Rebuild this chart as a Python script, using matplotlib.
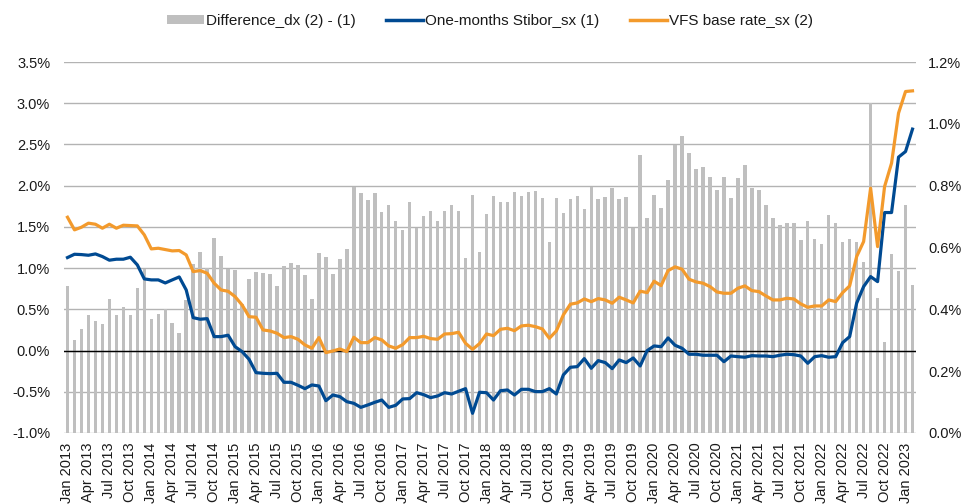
import matplotlib
matplotlib.use("Agg")
import matplotlib.pyplot as plt
from matplotlib.patches import Patch
from matplotlib.lines import Line2D
from matplotlib.ticker import FuncFormatter, FixedLocator
import numpy as np

plt.rcParams['font.family'] = ['Liberation Sans', 'DejaVu Sans']

# ---- data -------------------------------------------------------------
months = ["Jan", "Feb", "Mar", "Apr", "May", "Jun", "Jul", "Aug", "Sep", "Oct", "Nov", "Dec"]
categories = [f"{months[m]} {y}" for y in range(2013, 2024) for m in range(12)][:122]

difference = [
    0.475, 0.302, 0.336, 0.382, 0.361, 0.351, 0.432, 0.381, 0.408, 0.381, 0.468, 0.531,
    0.370, 0.386, 0.402, 0.356, 0.323, 0.431, 0.547, 0.585, 0.533, 0.632, 0.571, 0.531,
    0.527, 0.418, 0.499, 0.521, 0.518, 0.514,
    0.475, 0.539, 0.549, 0.542, 0.512, 0.433, 0.581, 0.569, 0.515, 0.564, 0.595, 0.797,
    0.775, 0.754, 0.775, 0.716, 0.738, 0.686, 0.657, 0.746, 0.664, 0.702, 0.718, 0.685,
    0.718, 0.737, 0.718, 0.566, 0.769, 0.586, 0.708,
    0.766, 0.746, 0.747, 0.778, 0.766, 0.778, 0.782, 0.761, 0.619, 0.759, 0.711, 0.756,
    0.768, 0.724, 0.797, 0.756, 0.762, 0.791, 0.758, 0.762, 0.664, 0.898, 0.696, 0.769,
    0.729, 0.818, 0.931, 0.960, 0.905, 0.855, 0.861, 0.828,
    0.786, 0.829, 0.761, 0.826, 0.866, 0.792, 0.786, 0.737, 0.694, 0.673, 0.680, 0.680,
    0.624, 0.685, 0.627, 0.612, 0.705, 0.678, 0.618, 0.626, 0.618, 0.554, 1.068, 0.438,
    0.293, 0.579, 0.524, 0.737, 0.479,
]

stibor = [
    1.128, 1.168, 1.164, 1.156, 1.172, 1.140, 1.096, 1.108, 1.108, 1.132, 1.039, 0.869,
    0.857, 0.857, 0.820, 0.857, 0.893, 0.735, 0.399, 0.380, 0.387, 0.169, 0.169, 0.186,
    0.047, -0.013, -0.106, -0.268, -0.276, -0.280,
    -0.276, -0.385, -0.385, -0.421, -0.462, -0.417, -0.430, -0.608, -0.539, -0.559, -0.620, -0.640,
    -0.689, -0.660, -0.628, -0.600, -0.689, -0.664, -0.587, -0.583, -0.511, -0.535, -0.571, -0.551,
    -0.511, -0.527, -0.494, -0.462, -0.761, -0.506, -0.511,
    -0.600, -0.487, -0.478, -0.539, -0.470, -0.470, -0.498, -0.498, -0.462, -0.527, -0.296, -0.203,
    -0.195, -0.098, -0.215, -0.122, -0.146, -0.219, -0.114, -0.146, -0.090, -0.187, -0.001, 0.056,
    0.047, 0.153, 0.064, 0.028, -0.045, -0.045, -0.057, -0.057,
    -0.057, -0.135, -0.066, -0.074, -0.081, -0.062, -0.066, -0.066, -0.074, -0.057, -0.045, -0.050,
    -0.066, -0.154, -0.074, -0.062, -0.081, -0.074, 0.096, 0.169, 0.574, 0.776, 0.897, 0.836,
    1.674, 1.674, 2.346, 2.414, 2.686,
]

vfs_base = [
    1.617, 1.464, 1.496, 1.545, 1.532, 1.484, 1.532, 1.484, 1.520, 1.516, 1.512, 1.403,
    1.233, 1.241, 1.225, 1.209, 1.213, 1.160, 0.958, 0.970, 0.938, 0.817, 0.735, 0.719,
    0.654, 0.553, 0.411, 0.404, 0.250, 0.238,
    0.210, 0.157, 0.169, 0.137, 0.068, 0.028, 0.157, -0.025, -0.005, 0.019, -0.013, 0.161,
    0.096, 0.096, 0.157, 0.129, 0.056, 0.028, 0.072, 0.157, 0.157, 0.173, 0.145, 0.137,
    0.201, 0.205, 0.222, 0.088, 0.015, 0.084, 0.201,
    0.181, 0.258, 0.270, 0.241, 0.299, 0.307, 0.290, 0.262, 0.149, 0.238, 0.432, 0.562,
    0.578, 0.626, 0.593, 0.630, 0.614, 0.574, 0.647, 0.614, 0.578, 0.720, 0.703, 0.841,
    0.788, 0.970, 1.015, 0.987, 0.865, 0.833, 0.817, 0.776,
    0.711, 0.695, 0.695, 0.756, 0.784, 0.727, 0.715, 0.663, 0.614, 0.614, 0.634, 0.626,
    0.566, 0.525, 0.541, 0.541, 0.614, 0.594, 0.703, 0.784, 1.140, 1.322, 1.970, 1.261,
    1.989, 2.273, 2.880, 3.142, 3.150,
]

left_ticks = [-1.0, -0.5, 0.0, 0.5, 1.0, 1.5, 2.0, 2.5, 3.0, 3.5]
right_ticks = [0.0, 0.2, 0.4, 0.6, 0.8, 1.0, 1.2]

legend_labels = ["Difference_dx (2) - (1)", "One-months Stibor_sx (1)", "VFS base rate_sx (2)"]

# ---- style ------------------------------------------------------------
BAR_C = "#BFBFBF"
BLUE = "#004A92"
ORANGE = "#F39A2C"
GRID_C = "#B3B3B3"
TXT = "#1a1a1a"

W, H = 962, 504
fig = plt.figure(figsize=(W / 100, H / 100), dpi=100)
rect = [64 / W, 1 - 433 / H, (916 - 64) / W, (433 - 62) / H]

x = np.arange(len(categories))

# base axes: left scale + gridlines
ax = fig.add_axes(rect)
ax.set_ylim(left_ticks[0], left_ticks[-1])
ax.set_xlim(-0.5, len(categories) - 0.5)
ax.yaxis.set_major_locator(FixedLocator(left_ticks))
ax.yaxis.set_major_formatter(FuncFormatter(lambda v, p: f"{v:.1f}%".replace("\u2212", "-")))
ax.grid(axis="y", color=GRID_C, linewidth=1.0)
ax.set_axisbelow(True)
for s in ax.spines.values():
    s.set_visible(False)
ax.tick_params(axis="y", length=0, pad=10, labelsize=10.5, labelcolor=TXT)
ax.set_xticks(x[::3])
ax.set_xticklabels(categories[::3], rotation=90, fontsize=10.5, color=TXT)
ax.tick_params(axis="x", length=0, pad=7)

# bars on right axis
axb = ax.twinx()
axb.bar(x, difference, width=0.5, color=BAR_C, zorder=2)
axb.set_ylim(right_ticks[0], right_ticks[-1])
axb.yaxis.set_major_locator(FixedLocator(right_ticks))
axb.yaxis.set_major_formatter(FuncFormatter(lambda v, p: f"{v:.1f}%"))
axb.tick_params(axis="y", length=0, pad=8.6, labelsize=10.5, labelcolor=TXT)
for s in axb.spines.values():
    s.set_visible(False)

# lines on top, sharing left scale
axl = fig.add_axes(rect, sharex=ax, sharey=ax)
axl.patch.set_visible(False)
axl.axis("off")
axl.axhline(0, color="black", linewidth=1.0, zorder=1)
axl.plot(x, stibor, color=BLUE, linewidth=2.3, solid_joinstyle="round", zorder=3)
axl.plot(x, vfs_base, color=ORANGE, linewidth=2.3, solid_joinstyle="round", zorder=3)

handles = [
    Patch(facecolor=BAR_C, edgecolor="none"),
    Line2D([], [], color=BLUE, linewidth=2.5),
    Line2D([], [], color=ORANGE, linewidth=2.5),
]
fig.legend(handles, legend_labels, loc="center", bbox_to_anchor=(490 / W, 1 - 21 / H),
           ncol=3, frameon=False, fontsize=11, handlelength=2.4, handleheight=0.6,
           handletextpad=0.15, columnspacing=2.0, labelcolor=TXT)

fig.savefig("out.png", dpi=100)
